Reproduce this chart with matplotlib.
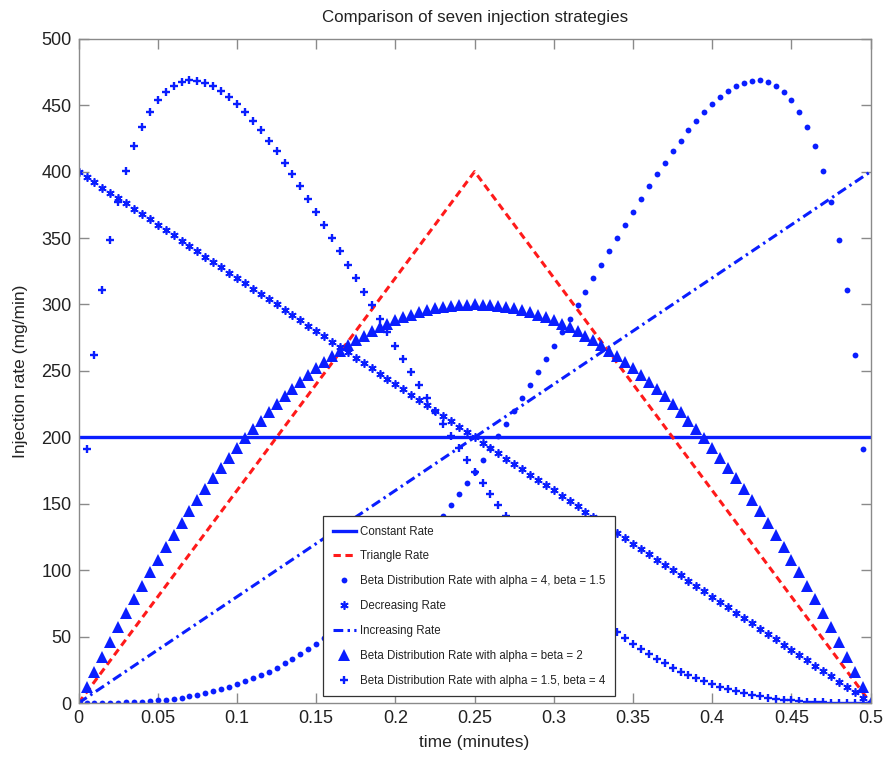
import matplotlib.pyplot as plt

# ------------------- 数据 -------------------
# 时间网格 (minutes), 步长 0.005
t = [0.000, 0.005, 0.010, 0.015, 0.020, 0.025, 0.030, 0.035, 0.040, 0.045,
     0.050, 0.055, 0.060, 0.065, 0.070, 0.075, 0.080, 0.085, 0.090, 0.095,
     0.100, 0.105, 0.110, 0.115, 0.120, 0.125, 0.130, 0.135, 0.140, 0.145,
     0.150, 0.155, 0.160, 0.165, 0.170, 0.175, 0.180, 0.185, 0.190, 0.195,
     0.200, 0.205, 0.210, 0.215, 0.220, 0.225, 0.230, 0.235, 0.240, 0.245,
     0.250, 0.255, 0.260, 0.265, 0.270, 0.275, 0.280, 0.285, 0.290, 0.295,
     0.300, 0.305, 0.310, 0.315, 0.320, 0.325, 0.330, 0.335, 0.340, 0.345,
     0.350, 0.355, 0.360, 0.365, 0.370, 0.375, 0.380, 0.385, 0.390, 0.395,
     0.400, 0.405, 0.410, 0.415, 0.420, 0.425, 0.430, 0.435, 0.440, 0.445,
     0.450, 0.455, 0.460, 0.465, 0.470, 0.475, 0.480, 0.485, 0.490, 0.495,
     0.500]

constant_t = [0.0, 0.5]
constant_rate = [200, 200]

triangle_t = [0.0, 0.25, 0.5]
triangle_rate = [0, 400, 0]

increasing_t = [0.0, 0.5]
increasing_rate = [0, 400]

beta_4_15 = [0.0, 0.0, 0.0, 0.1, 0.1, 0.2, 0.4, 0.7, 1.0, 1.4,
             1.9, 2.5, 3.2, 4.0, 5.0, 6.1, 7.4, 8.8, 10.4, 12.2,
             14.1, 16.2, 18.5, 21.0, 23.7, 26.6, 29.8, 33.1, 36.7, 40.5,
             44.5, 48.7, 53.2, 57.9, 62.9, 68.1, 73.5, 79.2, 85.1, 91.2,
             97.6, 104.2, 111.1, 118.2, 125.5, 133.1, 140.8, 148.8, 157.0, 165.4,
             174.0, 182.8, 191.8, 200.9, 210.3, 219.7, 229.3, 239.1, 248.9, 258.9,
             269.0, 279.1, 289.2, 299.4, 309.7, 319.9, 330.0, 340.2, 350.2, 360.1,
             369.9, 379.5, 388.8, 398.0, 406.8, 415.3, 423.4, 431.1, 438.2, 444.8,
             450.8, 456.1, 460.5, 464.1, 466.8, 468.3, 468.6, 467.4, 464.8, 460.3,
             453.9, 445.1, 433.6, 419.0, 400.5, 377.4, 348.4, 311.2, 262.1, 191.0,
             0.0]

decreasing_rate = [400, 396, 392, 388, 384, 380, 376, 372, 368, 364,
                   360, 356, 352, 348, 344, 340, 336, 332, 328, 324,
                   320, 316, 312, 308, 304, 300, 296, 292, 288, 284,
                   280, 276, 272, 268, 264, 260, 256, 252, 248, 244,
                   240, 236, 232, 228, 224, 220, 216, 212, 208, 204,
                   200, 196, 192, 188, 184, 180, 176, 172, 168, 164,
                   160, 156, 152, 148, 144, 140, 136, 132, 128, 124,
                   120, 116, 112, 108, 104, 100, 96, 92, 88, 84,
                   80, 76, 72, 68, 64, 60, 56, 52, 48, 44,
                   40, 36, 32, 28, 24, 20, 16, 12, 8, 4,
                   0]

beta_2_2 = [0.0, 11.9, 23.5, 34.9, 46.1, 57.0, 67.7, 78.1, 88.3, 98.3,
            108.0, 117.5, 126.7, 135.7, 144.5, 153.0, 161.3, 169.3, 177.1, 184.7,
            192.0, 199.1, 205.9, 212.5, 218.9, 225.0, 230.9, 236.5, 241.9, 247.1,
            252.0, 256.7, 261.1, 265.3, 269.3, 273.0, 276.5, 279.7, 282.7, 285.5,
            288.0, 290.3, 292.3, 294.1, 295.7, 297.0, 298.1, 298.9, 299.5, 299.9,
            300.0, 299.9, 299.5, 298.9, 298.1, 297.0, 295.7, 294.1, 292.3, 290.3,
            288.0, 285.5, 282.7, 279.7, 276.5, 273.0, 269.3, 265.3, 261.1, 256.7,
            252.0, 247.1, 241.9, 236.5, 230.9, 225.0, 218.9, 212.5, 205.9, 199.1,
            192.0, 184.7, 177.1, 169.3, 161.3, 153.0, 144.5, 135.7, 126.7, 117.5,
            108.0, 98.3, 88.3, 78.1, 67.7, 57.0, 46.1, 34.9, 23.5, 11.9,
            0.0]

beta_15_4 = [0.0, 191.0, 262.1, 311.2, 348.4, 377.4, 400.5, 419.0, 433.6, 445.1,
             453.9, 460.3, 464.8, 467.4, 468.6, 468.3, 466.8, 464.1, 460.5, 456.1,
             450.8, 444.8, 438.2, 431.1, 423.4, 415.3, 406.8, 398.0, 388.8, 379.5,
             369.9, 360.1, 350.2, 340.2, 330.0, 319.9, 309.7, 299.4, 289.2, 279.1,
             269.0, 258.9, 248.9, 239.1, 229.3, 219.7, 210.3, 200.9, 191.8, 182.8,
             174.0, 165.4, 157.0, 148.8, 140.8, 133.1, 125.5, 118.2, 111.1, 104.2,
             97.6, 91.2, 85.1, 79.2, 73.5, 68.1, 62.9, 57.9, 53.2, 48.7,
             44.5, 40.5, 36.7, 33.1, 29.8, 26.6, 23.7, 21.0, 18.5, 16.2,
             14.1, 12.2, 10.4, 8.8, 7.4, 6.1, 5.0, 4.0, 3.2, 2.5,
             1.9, 1.4, 1.0, 0.7, 0.4, 0.2, 0.1, 0.1, 0.0, 0.0,
             0.0]

x_ticks = [0, 0.05, 0.1, 0.15, 0.2, 0.25, 0.3, 0.35, 0.4, 0.45, 0.5]
x_tick_labels = ['0', '0.05', '0.1', '0.15', '0.2', '0.25', '0.3', '0.35', '0.4', '0.45', '0.5']
y_ticks = [0, 50, 100, 150, 200, 250, 300, 350, 400, 450, 500]

# ------------------- 样式 -------------------
plt.rcParams['font.family'] = ['Liberation Sans', 'DejaVu Sans']
plt.rcParams['font.size'] = 12

blue = '#0a1eff'
red = '#ff1a1a'

fig = plt.figure(figsize=(8.83, 7.60), dpi=100)
ax = fig.add_axes([0.089, 0.075, 0.897, 0.874])

ax.plot(constant_t, constant_rate, color=blue, lw=2.4, linestyle='-',
        label='Constant Rate')
ax.plot(triangle_t, triangle_rate, color=red, lw=2.2, dashes=(2.4, 1.5),
        label='Triangle Rate')
ax.plot(t, beta_4_15, color=blue, linestyle='none', marker='o', markersize=4.2,
        markeredgewidth=0, label='Beta Distribution Rate with alpha = 4, beta = 1.5')
ax.plot(t, decreasing_rate, color=blue, linestyle='none', marker=(6, 2, 0),
        markersize=6, markeredgewidth=1.2, label='Decreasing Rate')
ax.plot(increasing_t, increasing_rate, color=blue, lw=2.2, dashes=(3.2, 1.4, 0.8, 1.4),
        label='Increasing Rate')
ax.plot(t, beta_2_2, color=blue, linestyle='none', marker='^', markersize=8.6,
        markeredgewidth=0, label='Beta Distribution Rate with alpha = beta = 2')
ax.plot(t, beta_15_4, color=blue, linestyle='none', marker='+', markersize=6,
        markeredgewidth=1.7, label='Beta Distribution Rate with alpha = 1.5, beta = 4')

ax.set_xlim(0, 0.5)
ax.set_ylim(0, 500)
ax.set_xticks(x_ticks)
ax.set_xticklabels(x_tick_labels)
ax.set_yticks(y_ticks)

for side in ['left', 'right', 'top', 'bottom']:
    ax.spines[side].set_color('#8a8a8a')
    ax.spines[side].set_linewidth(1.0)
ax.tick_params(direction='in', length=7, width=1.0, color='#8a8a8a',
               top=True, right=True, labelsize=13, labelcolor='#222222', pad=5)

ax.set_xlabel('time (minutes)', fontsize=12.5, color='#222222', labelpad=6)
ax.set_ylabel('Injection rate (mg/min)', fontsize=12.5, color='#222222', labelpad=10)
ax.set_title('Comparison of seven injection strategies', fontsize=12.2,
             color='#222222', pad=12)

leg = ax.legend(loc='upper left', bbox_to_anchor=(0.309, 0.281), borderaxespad=0,
                fontsize=8.3, numpoints=1, handlelength=2.0, handletextpad=0.4,
                labelspacing=1.12, borderpad=0.8, frameon=True, fancybox=False,
                edgecolor='#333333', framealpha=1)
leg.get_frame().set_linewidth(0.9)
for txt in leg.get_texts():
    txt.set_color('#222222')

fig.savefig('out.png', dpi=100)
